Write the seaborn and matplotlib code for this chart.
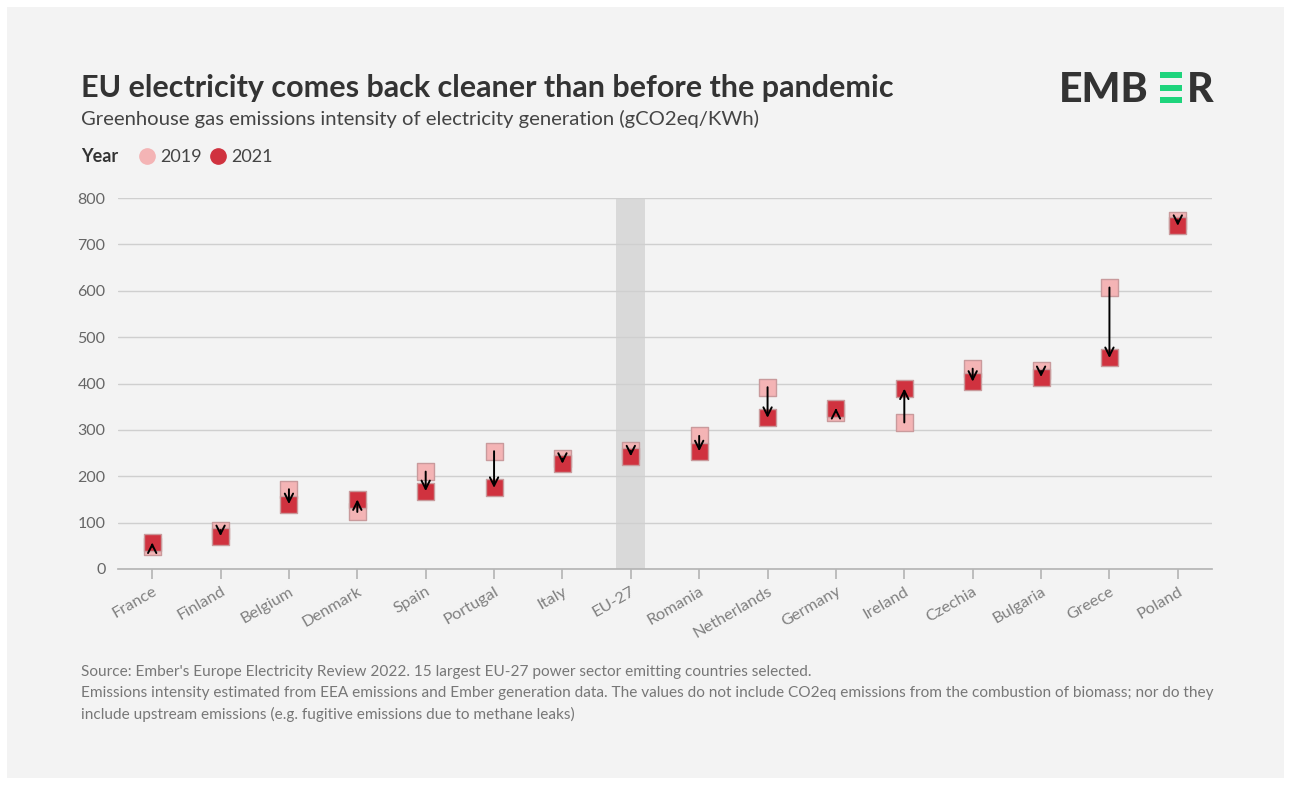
import pandas as pd
import seaborn as sns
import matplotlib.pyplot as plt
from matplotlib.patches import Rectangle
from matplotlib.lines import Line2D

countries = ['France', 'Finland', 'Belgium', 'Denmark', 'Spain', 'Portugal', 'Italy', 'EU-27',
             'Romania', 'Netherlands', 'Germany', 'Ireland', 'Czechia', 'Bulgaria', 'Greece', 'Poland']
v2019 = [48, 84, 172, 123, 210, 254, 238, 255, 287, 392, 338, 316, 432, 427, 607, 752]
v2021 = [57, 71, 140, 150, 168, 175, 227, 243, 254, 326, 347, 389, 404, 414, 455, 740]
years = ['2019', '2021']
colors = {'2019': '#f4b4b5', '2021': '#d0323f'}

df = pd.DataFrame({
    'country': countries * 2,
    'year': ['2019'] * len(countries) + ['2021'] * len(countries),
    'value': v2019 + v2021,
})

W, H = 1291, 785
BG = '#f3f3f3'


def px(x, y):
    return x / W, 1 - y / H


sns.set_theme(style='white')
plt.rcParams['font.family'] = ['Lato', 'DejaVu Sans']

fig = plt.figure(figsize=(W / 100, H / 100), dpi=100, facecolor='white')
fig.add_artist(Rectangle(px(7, 778), (W - 14) / W, (H - 14) / H, transform=fig.transFigure,
                         facecolor=BG, edgecolor='none', zorder=0))

x0, y0 = px(118, 569)
x1, y1 = px(1212, 198)
ax = fig.add_axes([x0, y0, x1 - x0, y1 - y0])
ax.set_facecolor(BG)

# EU-27 band
eu = countries.index('EU-27')
ax.axvspan(eu - 0.21, eu + 0.21, color='#d9d9d9', zorder=0, lw=0)

sns.scatterplot(data=df, x='country', y='value', hue='year', palette=colors, marker='s', s=150,
                edgecolor='#c99a9c', linewidth=1.0, legend=False, ax=ax, zorder=3)

for i in range(len(countries)):
    ax.annotate('', xy=(i, v2021[i]), xytext=(i, v2019[i]),
                arrowprops=dict(arrowstyle='->', color='black', lw=1.4, mutation_scale=15,
                                shrinkA=0, shrinkB=0), zorder=4)

ax.set_xlim(-0.5, len(countries) - 0.5)
ax.set_ylim(0, 800)
ax.set_yticks(range(0, 801, 100))
ax.yaxis.grid(True, color='#cfcfcf', lw=1)
ax.set_axisbelow(True)
ax.set_xlabel('')
ax.set_ylabel('')
sns.despine(ax=ax, left=True)
ax.spines['bottom'].set_color('#b5b5b5')
ax.tick_params(axis='y', length=0, labelsize=11.5, labelcolor='#666666', pad=9)
ax.tick_params(axis='x', length=7, color='#b5b5b5', labelsize=11.8, labelcolor='#808080', pad=4,
               bottom=True)
plt.setp(ax.get_xticklabels(), rotation=30, ha='right', rotation_mode='anchor')

# titles
fig.text(*px(81, 97), 'EU electricity comes back cleaner than before the pandemic',
         fontsize=22, fontweight='bold', color='#333333', va='baseline')
fig.text(*px(81, 125), 'Greenhouse gas emissions intensity of electricity generation (gCO2eq/KWh)',
         fontsize=14.6, color='#444444', va='baseline')

# legend
fig.text(*px(81, 162), 'Year', fontsize=13, fontweight='bold', color='#333333', va='baseline')
for xc, yr in zip([147, 218], years):
    fig.add_artist(Line2D([xc / W], [1 - 156 / H], marker='o', markersize=11, linestyle='none',
                          color=colors[yr], transform=fig.transFigure))
    fig.text(*px(xc + 13, 162), yr, fontsize=13, color='#444444', va='baseline')

# logo
fig.text(*px(1059, 102), 'EMB', fontsize=29.5, fontweight='black', color='#333333', va='baseline')
for yt in [72, 85, 97]:
    fig.add_artist(Rectangle(px(1160, yt + 5.5), 22 / W, 5.5 / H, transform=fig.transFigure,
                             facecolor='#1ed47c', edgecolor='none'))
fig.text(*px(1187, 102), 'R', fontsize=29.5, fontweight='black', color='#333333', va='baseline')

# footnotes
notes = [
    "Source: Ember's Europe Electricity Review 2022. 15 largest EU-27 power sector emitting countries selected.",
    'Emissions intensity estimated from EEA emissions and Ember generation data. The values do not include '
    'CO2eq emissions from the combustion of biomass; nor do they',
    'include upstream emissions (e.g. fugitive emissions due to methane leaks)',
]
for yb, t in zip([676, 697, 719], notes):
    fig.text(*px(81, yb), t, fontsize=11.1, color='#777777', va='baseline')

fig.savefig('out.png', dpi=100, facecolor='white')
